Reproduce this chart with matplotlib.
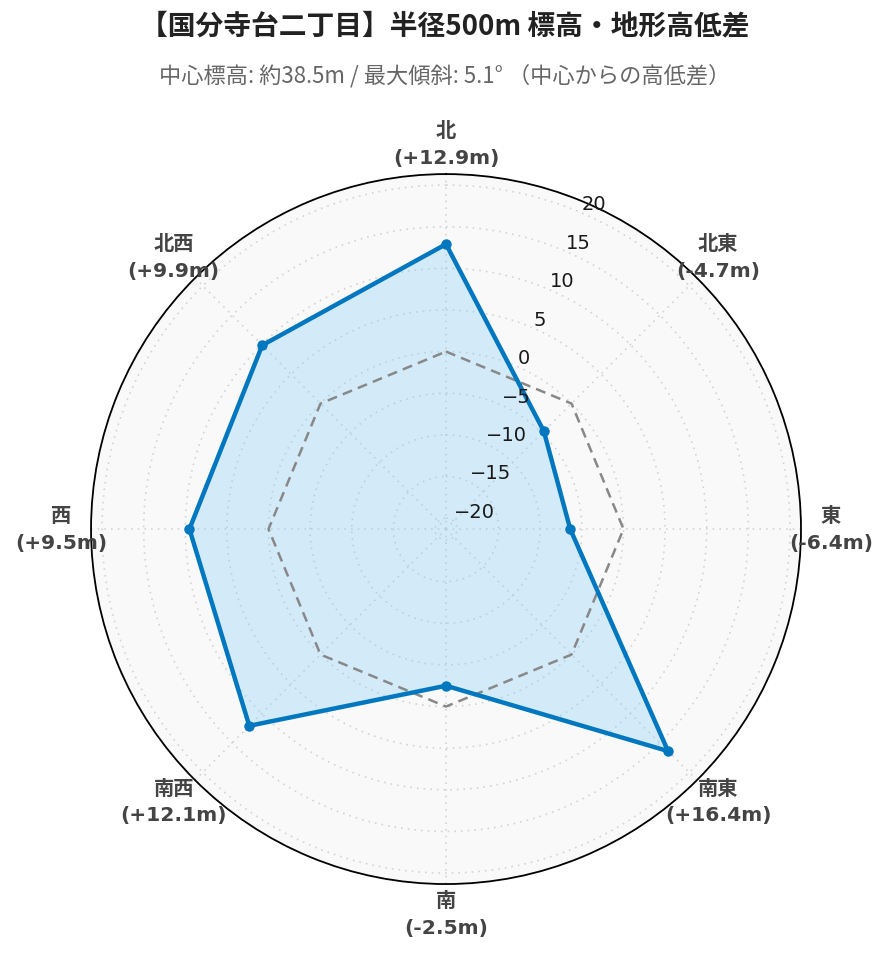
import numpy as np
import matplotlib.pyplot as plt

# 方角と中心からの高低差 (m)
directions = ['北', '北東', '東', '南東', '南', '南西', '西', '北西']
diffs = [12.9, -4.7, -6.4, 16.4, -2.5, 12.1, 9.5, 9.9]
r_ticks = [-20, -15, -10, -5, 0, 5, 10, 15, 20]
r_max = 21.32

title = '【国分寺台二丁目】半径500m 標高・地形高低差'
subtitle = '中心標高: 約38.5m / 最大傾斜: 5.1° （中心からの高低差）'

cjk = ['Noto Sans CJK JP', 'DejaVu Sans']
latin = ['DejaVu Sans', 'Noto Sans CJK JP']

theta = np.deg2rad(np.arange(len(directions)) * 45)
theta_c = np.append(theta, theta[0])
vals_c = np.append(diffs, diffs[0])

fig = plt.figure(figsize=(8.89, 9.62), dpi=100)
ax = fig.add_axes([0.1024, 0.080, 0.7986, 0.738], projection='polar')
ax.set_theta_zero_location('N')
ax.set_theta_direction(-1)
ax.set_ylim(-r_max, r_max)
ax.set_facecolor('#f9f9f9')

ax.set_xticks(theta)
ax.set_xticklabels([])
ax.set_yticks(r_ticks)
ax.set_yticklabels([])
ax.grid(True, color='#d4d4d4', linestyle=(0, (1, 3)), linewidth=1.2)
ax.spines['polar'].set_color('black')
ax.spines['polar'].set_linewidth(1.3)

# ゼロライン
ax.plot(theta_c, np.zeros(len(theta_c)), color='#888888', linestyle=(0, (4, 2.5)),
        linewidth=1.8, zorder=3)

# 高低差
ax.fill(theta_c, vals_c, color='#87cefa', alpha=0.33, zorder=2)
ax.plot(theta_c, vals_c, color='#0077be', linewidth=3.2, zorder=4)
ax.plot(theta, diffs, 'o', color='#0077be', markersize=6.5, zorder=5)

# 方角ラベル
for t, name, v in zip(theta, directions, diffs):
    ax.text(t, r_max + 3.6, f'{name}\n({v:+.1f}m)', ha='center', va='center',
            fontsize=14.6, fontweight='bold', color='#444444', family=latin,
            linespacing=1.5, clip_on=False)

# 目盛ラベル
for v in r_ticks:
    ax.annotate(str(v).replace('-', '\u2212'), xy=(np.deg2rad(22.5), v),
                xytext=(4, -2), textcoords='offset pixels', ha='left', va='bottom',
                fontsize=14, color='#1a1a1a', family=latin, zorder=6)

fig.text(0.5, 0.972, title, ha='center', va='center', fontsize=20,
         fontweight='bold', color='#222222', family=cjk)
fig.text(0.5, 0.921, subtitle, ha='center', va='center', fontsize=16,
         color='#666666', family=cjk)

fig.savefig('out.png', dpi=100)
